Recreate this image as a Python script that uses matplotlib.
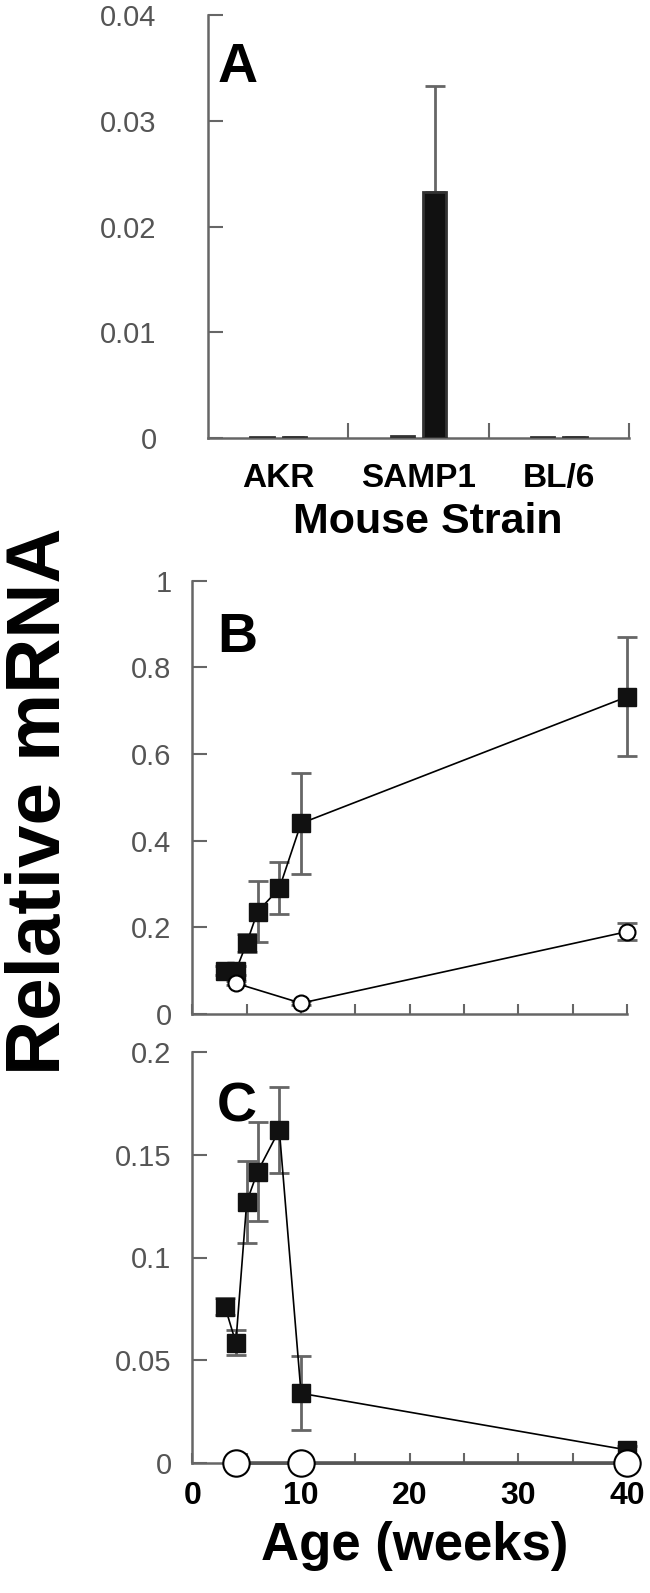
import numpy as np
import matplotlib
matplotlib.use("Agg")
import matplotlib.pyplot as plt

plt.rcParams["font.family"] = ["Liberation Sans", "DejaVu Sans"]

# ---------------------------------------------------------------------
# Data
# ---------------------------------------------------------------------

strains = ["AKR", "SAMP1", "BL/6"]
a_first = [0.0001, 0.0002, 0.0001]
a_second = [0.0001, 0.0233, 0.0001]
a_second_err = [0.0, 0.0100, 0.0]
a_yticks = [0, 0.01, 0.02, 0.03, 0.04]
a_yticklabels = ["0", "0.01", "0.02", "0.03", "0.04"]

weeks_sq = [3, 4, 5, 6, 8, 10, 40]
weeks_circ = [4, 10, 40]

b_sq = [0.10, 0.10, 0.164, 0.236, 0.29, 0.44, 0.732]
b_sq_err = [0.01, 0.01, 0.02, 0.07, 0.06, 0.116, 0.137]
b_circ = [0.071, 0.025, 0.19]
b_circ_err = [0.005, 0.005, 0.02]
b_yticks = [0, 0.2, 0.4, 0.6, 0.8, 1.0]
b_yticklabels = ["0", "0.2", "0.4", "0.6", "0.8", "1"]

c_sq = [0.0761, 0.0586, 0.127, 0.1417, 0.162, 0.034, 0.0065]
c_sq_err = [0.004, 0.006, 0.02, 0.024, 0.021, 0.018, 0.002]
c_circ = [0.0, 0.0, 0.0]
c_yticks = [0, 0.05, 0.1, 0.15, 0.2]
c_yticklabels = ["0", "0.05", "0.1", "0.15", "0.2"]

age_ticks = [0, 10, 20, 30, 40]
age_minor = [5, 15, 25, 35]

# ---------------------------------------------------------------------
# Styling helpers
# ---------------------------------------------------------------------

W, H = 650, 1593
AXIS_GREY = "#666666"
LABEL_GREY = "#555555"


def fig_box(x0, y_top, x1, y_bot):
    """Pixel box -> figure fraction [left, bottom, width, height]."""
    return [x0 / W, 1 - y_bot / H, (x1 - x0) / W, (y_bot - y_top) / H]


def style_axes(ax, ypad):
    for side in ("top", "right"):
        ax.spines[side].set_visible(False)
    for side in ("left", "bottom"):
        ax.spines[side].set_color(AXIS_GREY)
        ax.spines[side].set_linewidth(1.8)
    ax.tick_params(axis="y", direction="in", length=11, width=1.5,
                   color=AXIS_GREY, labelcolor=LABEL_GREY,
                   labelsize=21, pad=ypad)
    ax.tick_params(axis="x", which="both", direction="in", length=7,
                   width=1.5, color=AXIS_GREY)


fig = plt.figure(figsize=(W / 100, H / 100), dpi=100)

# ---------------------------------------------------------------------
# Panel A - bar chart by strain
# ---------------------------------------------------------------------

axA = fig.add_axes(fig_box(208, 15.3, 629, 438))
x = np.arange(len(strains))
off, bw = 0.115, 0.165
axA.bar(x - off, a_first, width=bw, color="#444444",
        edgecolor="#333333", linewidth=2, zorder=3)
axA.bar(x + off, a_second, width=bw, color="#111111",
        edgecolor="#333333", linewidth=2, zorder=3)
axA.errorbar(x + off, a_second,
             yerr=[np.zeros(len(x)), a_second_err],
             fmt="none", ecolor=AXIS_GREY, elinewidth=2,
             capsize=7, capthick=2, zorder=2)
axA.set_xlim(-0.5, 2.5)
axA.set_ylim(0, 0.04)
style_axes(axA, ypad=37)
axA.set_yticks(a_yticks)
axA.set_yticklabels(a_yticklabels)
axA.set_xticks([0.5, 1.5, 2.5])
axA.set_xticklabels([])
axA.tick_params(axis="x", which="major", length=11)
axA.set_xticks(x, minor=True)
axA.set_xticklabels(strains, minor=True, fontsize=24,
                    fontweight="bold")
axA.tick_params(axis="x", which="minor", length=0, pad=18)
fig.text(218 / W, 1 - 82 / H, "A", fontsize=40, fontweight="bold",
         va="baseline", ha="left")
fig.text(428 / W, 1 - 522 / H, "Mouse Strain", fontsize=31,
         fontweight="bold", ha="center", va="center")

# ---------------------------------------------------------------------
# Panels B and C - time courses
# ---------------------------------------------------------------------


def time_course(ax, sq, sq_err, circ, circ_err, circ_ms, circ_lw,
                circ_color):
    ax.errorbar(weeks_sq, sq, yerr=sq_err, fmt="none",
                ecolor=AXIS_GREY, elinewidth=2, capsize=7,
                capthick=2, zorder=2, clip_on=False)
    ax.plot(weeks_sq, sq, color="black", linewidth=1.2, marker="s",
            markersize=12.5, markerfacecolor="#111111",
            markeredgecolor="#111111", zorder=4, clip_on=False)
    if circ_err is not None:
        ax.errorbar(weeks_circ, circ, yerr=circ_err, fmt="none",
                    ecolor=AXIS_GREY, elinewidth=2, capsize=7,
                    capthick=2, zorder=2, clip_on=False)
    ax.plot(weeks_circ, circ, color=circ_color, linewidth=circ_lw,
            marker="o", markersize=circ_ms, markerfacecolor="white",
            markeredgecolor="black", markeredgewidth=1.5, zorder=5,
            clip_on=False)
    ax.set_xlim(0, 40)
    style_axes(ax, ypad=15)
    ax.set_xticks(age_ticks)
    ax.set_xticks(age_minor, minor=True)


axB = fig.add_axes(fig_box(192.4, 580.7, 627, 1014))
time_course(axB, b_sq, b_sq_err, b_circ, b_circ_err, 11.5, 1.2,
            "black")
axB.set_ylim(0, 1.0)
axB.set_yticks(b_yticks)
axB.set_yticklabels(b_yticklabels)
axB.set_xticklabels([])
fig.text(217 / W, 1 - 652 / H, "B", fontsize=40, fontweight="bold",
         va="baseline", ha="left")

axC = fig.add_axes(fig_box(192.4, 1051.7, 627, 1463.3))
time_course(axC, c_sq, c_sq_err, c_circ, None, 19, 2.6, "#555555")
axC.set_ylim(0, 0.2)
axC.set_yticks(c_yticks)
axC.set_yticklabels(c_yticklabels)
axC.set_xticklabels([str(t) for t in age_ticks], fontsize=23,
                    fontweight="bold")
axC.tick_params(axis="x", which="major", pad=13)
fig.text(217 / W, 1 - 1122 / H, "C", fontsize=40, fontweight="bold",
         va="baseline", ha="left")
fig.text(415 / W, 1 - 1546 / H, "Age (weeks)", fontsize=38,
         fontweight="bold", ha="center", va="center")

# shared y label, anchored on its baseline
fig.text(60 / W, 1 - 801 / H, "Relative mRNA", fontsize=55,
         fontweight="bold", rotation=90, rotation_mode="anchor",
         ha="center", va="baseline")

fig.savefig("out.png", dpi=100)
